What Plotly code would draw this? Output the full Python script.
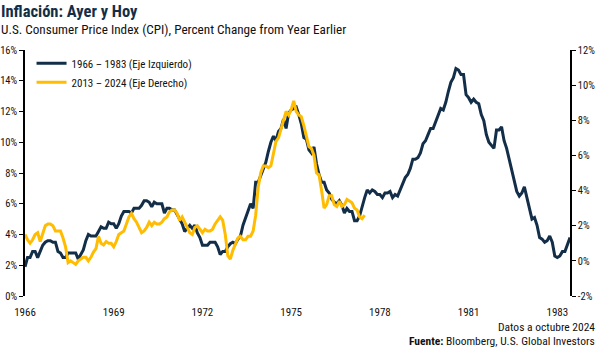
import plotly.graph_objects as go

# ---------------- data ----------------
# U.S. CPI, percent change from year earlier, monthly
cpi_1966_1983 = [
    1.9, 2.5, 2.5, 2.9, 2.9, 2.5, 2.9, 3.3, 3.5, 3.6, 3.6, 3.5,   # 1966
    3.5, 2.9, 2.8, 2.5, 2.5, 2.8, 2.8, 2.8, 2.8, 2.4, 2.7, 3.0,   # 1967
    3.6, 4.0, 3.9, 3.9, 3.9, 4.2, 4.5, 4.4, 4.4, 4.8, 4.7, 4.7,   # 1968
    4.4, 4.7, 5.2, 5.5, 5.5, 5.5, 5.4, 5.7, 5.7, 5.7, 5.9, 6.2,   # 1969
    6.2, 6.1, 5.8, 6.1, 6.0, 6.0, 6.0, 5.4, 5.7, 5.7, 5.6, 5.6,   # 1970
    5.3, 5.0, 4.7, 4.2, 4.4, 4.6, 4.4, 4.6, 4.1, 3.8, 3.3, 3.3,   # 1971
    3.3, 3.5, 3.5, 3.5, 3.2, 2.7, 2.9, 2.9, 3.2, 3.4, 3.5, 3.4,   # 1972
    3.7, 3.9, 4.6, 5.1, 5.5, 6.0, 5.7, 7.4, 7.4, 7.8, 8.3, 8.7,   # 1973
    9.4, 10.0, 10.4, 10.1, 10.7, 10.9, 11.5, 10.9, 11.9, 12.1, 12.2, 12.3,  # 1974
    11.8, 11.2, 10.3, 10.2, 9.5, 9.3, 9.7, 8.6, 7.9, 7.4, 7.4, 6.9,  # 1975
    6.7, 6.3, 6.1, 6.0, 6.2, 5.9, 5.4, 5.7, 5.5, 5.5, 4.9, 4.9,   # 1976
    5.2, 5.9, 6.4, 6.9, 6.7, 6.9, 6.8, 6.6, 6.6, 6.4, 6.7, 6.7,   # 1977
    6.8, 6.4, 6.6, 6.5, 6.9, 7.4, 7.7, 7.9, 8.3, 8.9, 8.9, 9.0,   # 1978
    9.3, 9.9, 10.1, 10.5, 10.9, 10.9, 11.3, 11.8, 12.2, 12.1, 12.6, 13.3,  # 1979
    13.9, 14.2, 14.8, 14.7, 14.4, 14.4, 13.1, 12.9, 12.6, 12.8, 12.6, 12.5,  # 1980
    11.8, 11.4, 10.5, 10.0, 9.8, 9.6, 10.8, 10.8, 11.0, 10.1, 9.6, 8.9,  # 1981
    8.4, 7.6, 6.8, 6.5, 6.7, 7.1, 6.4, 5.9, 5.0, 5.1, 4.6, 3.8,   # 1982
    3.7, 3.5, 3.6, 3.9, 3.5, 2.6, 2.5, 2.6, 2.9, 2.9, 3.3, 3.8,   # 1983
]

cpi_2013_2024 = [
    1.5, 1.2, 1.0, 1.2, 1.5,                                       # 2013 (Aug-Dec)
    1.6, 1.1, 1.5, 2.0, 2.1, 2.1, 2.0, 1.7, 1.7, 1.7, 1.3, 0.8,   # 2014
    -0.1, 0.0, -0.1, -0.2, 0.0, 0.1, 0.2, 0.2, 0.0, 0.2, 0.5, 0.7,  # 2015
    1.4, 1.0, 0.9, 1.1, 1.0, 1.0, 0.8, 1.1, 1.5, 1.6, 1.7, 2.1,   # 2016
    2.5, 2.7, 2.4, 2.2, 1.9, 1.6, 1.7, 1.9, 2.2, 2.0, 2.2, 2.1,   # 2017
    2.1, 2.2, 2.4, 2.5, 2.8, 2.9, 2.9, 2.7, 2.3, 2.5, 2.2, 1.9,   # 2018
    1.6, 1.5, 1.9, 2.0, 1.8, 1.6, 1.8, 1.7, 1.7, 1.8, 2.1, 2.3,   # 2019
    2.5, 2.3, 1.5, 0.3, 0.1, 0.6, 1.0, 1.3, 1.4, 1.2, 1.2, 1.4,   # 2020
    1.4, 1.7, 2.6, 4.2, 5.0, 5.4, 5.4, 5.3, 5.4, 6.2, 6.8, 7.0,   # 2021
    7.5, 7.9, 8.5, 8.3, 8.6, 9.1, 8.5, 8.3, 8.2, 7.7, 7.1, 6.5,   # 2022
    6.4, 6.0, 5.0, 4.9, 4.0, 3.0, 3.2, 3.7, 3.7, 3.2, 3.1, 3.4,   # 2023
    3.1, 3.2, 3.5, 3.4, 3.3, 3.0, 2.9, 2.5, 2.4, 2.6,             # 2024 (Jan-Oct)
]

series_names = ["1966 – 1983 (Eje Izquierdo)", "2013 – 2024 (Eje Derecho)"]
x_tick_months = [0, 35, 70, 105, 140, 175, 210]
x_tick_labels = ["1966", "1969", "1972", "1975", "1978", "1981", "1983"]
left_ticks = [0, 2, 4, 6, 8, 10, 12, 14, 16]
right_ticks = [-2, 0, 2, 4, 6, 8, 10, 12]

NAVY = "#132e48"
GOLD = "#ffbc00"
FONT = "Liberation Sans Narrow, Roboto Condensed, Arial Narrow, Roboto, sans-serif"

months_a = list(range(len(cpi_1966_1983)))
months_b = list(range(len(cpi_2013_2024)))

fig = go.Figure()
fig.add_trace(go.Scatter(x=months_a, y=cpi_1966_1983, mode="lines", name=series_names[0],
                         line=dict(color=NAVY, width=3), yaxis="y"))
fig.add_trace(go.Scatter(x=months_b, y=cpi_2013_2024, mode="lines", name=series_names[1],
                         line=dict(color=GOLD, width=3), yaxis="y2"))

fig.update_layout(
    width=600, height=348,
    margin=dict(l=25, r=30, t=50, b=52),
    paper_bgcolor="white", plot_bgcolor="white",
    font=dict(family=FONT, size=11, color="#000000"),
    showlegend=True,
    legend=dict(x=0.012, y=1.005, xanchor="left", yanchor="top",
                bgcolor="rgba(0,0,0,0)", font=dict(size=11, color="#111111"),
                tracegroupgap=0, itemwidth=30),
    xaxis=dict(range=[0, len(cpi_1966_1983) - 1], tickvals=x_tick_months, ticktext=x_tick_labels,
               showgrid=False, zeroline=False, showline=False, ticks="",
               ticklabelstandoff=8, automargin=False,
               tickfont=dict(size=11, color="#111111")),
    yaxis=dict(range=[0, 16], tickmode="array", tickvals=left_ticks,
               ticktext=[f"{v}%" for v in left_ticks], automargin=False,
               showgrid=False, zeroline=False, showline=True, linecolor="#000000", linewidth=1.5,
               ticks="outside", ticklen=4, tickcolor="#000000", tickwidth=1,
               tickfont=dict(size=10.5, color="#111111")),
    yaxis2=dict(range=[-2, 12], tickmode="array", tickvals=right_ticks,
                ticktext=[f"{v}%" for v in right_ticks], overlaying="y", side="right",
                automargin=False,
                showgrid=False, zeroline=False, showline=True, linecolor="#000000", linewidth=1.5,
                ticks="outside", ticklen=4, tickcolor="#000000", tickwidth=1,
                tickfont=dict(size=10.5, color="#111111")),
    annotations=[
        dict(text="<b>Inflación: Ayer y Hoy</b>", xref="paper", yref="paper",
             x=-0.048, y=1.155, xanchor="left", yanchor="middle", showarrow=False,
             font=dict(family=FONT, size=16.5, color=NAVY)),
        dict(text="U.S. Consumer Price Index (CPI), Percent Change from Year Earlier",
             xref="paper", yref="paper", x=-0.048, y=1.082, xanchor="left", yanchor="middle",
             showarrow=False, font=dict(family=FONT, size=13.2, color="#111111")),
        dict(text="Datos a octubre 2024", xref="paper", yref="paper",
             x=1.05, y=-0.125, xanchor="right", yanchor="middle", showarrow=False,
             font=dict(family=FONT, size=11.5, color="#111111")),
        dict(text="<b>Fuente:</b> Bloomberg, U.S. Global Investors", xref="paper", yref="paper",
             x=1.05, y=-0.183, xanchor="right", yanchor="middle", showarrow=False,
             font=dict(family=FONT, size=11.5, color="#111111")),
    ],
)

fig.write_html("out.html")
